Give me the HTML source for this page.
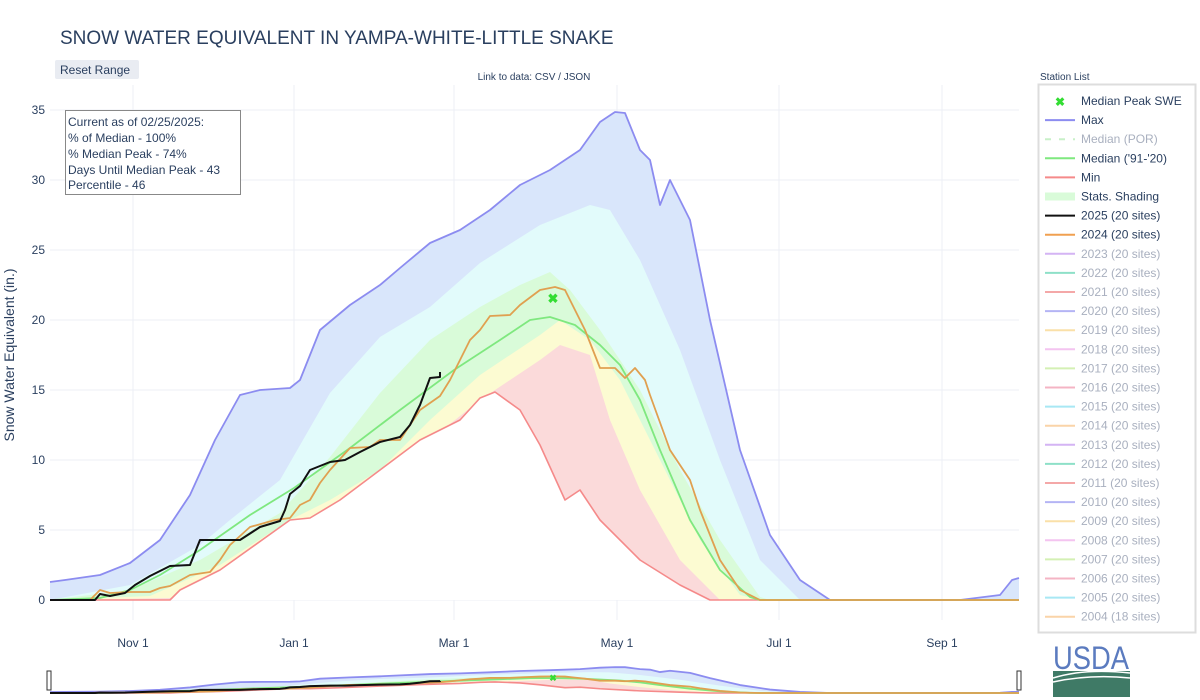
<!DOCTYPE html>
<html><head><meta charset="utf-8"><style>
body{margin:0;background:#fff;font-family:"Liberation Sans",sans-serif;}
svg{display:block}
</style></head><body>
<svg id="s" width="1200" height="700" xmlns="http://www.w3.org/2000/svg" font-family="Liberation Sans, sans-serif">
<rect width="1200" height="700" fill="#fff"/>
<g id="grid" stroke="#eceff5" stroke-width="1"></g>
<g id="main"></g>
<g id="mini" transform="translate(0,693) scale(1,0.053) translate(0,-600)"></g>
<text x="60" y="44" font-size="19" fill="#2a3f5f">SNOW WATER EQUIVALENT IN YAMPA-WHITE-LITTLE SNAKE</text>
<rect x="55" y="60" width="84" height="19" rx="2" fill="#e9ecf2"/>
<text x="60" y="74" font-size="12" fill="#2a3f5f">Reset Range</text>
<text x="534" y="80" font-size="10" fill="#2a3f5f" text-anchor="middle">Link to data: CSV / JSON</text>
<text x="1040" y="80" font-size="10" fill="#2a3f5f">Station List</text>
<text transform="translate(14,355) rotate(-90)" font-size="14" fill="#2a3f5f" text-anchor="middle">Snow Water Equivalent (in.)</text>
<g id="yt" font-size="12" fill="#2a3f5f" text-anchor="end"></g>
<g font-size="12" fill="#2a3f5f" text-anchor="middle">
<text x="133" y="647">Nov 1</text><text x="294" y="647">Jan 1</text><text x="454" y="647">Mar 1</text>
<text x="617" y="647">May 1</text><text x="779" y="647">Jul 1</text><text x="942" y="647">Sep 1</text></g>
<rect x="65.5" y="110.5" width="175" height="84" fill="#fff" stroke="#888" stroke-width="1"/>
<g font-size="12" fill="#2a3f5f">
<text x="68" y="126">Current as of 02/25/2025:</text>
<text x="68" y="142">% of Median - 100%</text>
<text x="68" y="158">% Median Peak - 74%</text>
<text x="68" y="174">Days Until Median Peak - 43</text>
<text x="68" y="189">Percentile - 46</text></g>
<rect x="1038.5" y="84.5" width="157" height="548" fill="#fff" stroke="#ddd" stroke-width="2"/>
<g id="leg" font-size="12"></g>
<rect x="47" y="671" width="4" height="19" fill="#fff" stroke="#333"/>
<rect x="1017" y="671" width="4" height="19" fill="#fff" stroke="#333"/>
<text x="1053" y="669" font-size="32" fill="#5b7bbf" font-family="Liberation Sans Narrow, Liberation Sans, sans-serif" textLength="76" lengthAdjust="spacingAndGlyphs">USDA</text>
<rect x="1053" y="671" width="77" height="26" fill="#3f7a66"/>
<path d="M1053 678 Q1085 668 1130 673" fill="none" stroke="#fff" stroke-width="1.5"/>
<path d="M1053 682 Q1090 674 1130 678" fill="none" stroke="#fff" stroke-width="1.5"/>
</svg>
<script>
const NS="http://www.w3.org/2000/svg";
function el(p,t,a){const e=document.createElementNS(NS,t);for(const k in a)e.setAttribute(k,a[k]);p.appendChild(e);return e;}
const g=document.getElementById('grid'),yt=document.getElementById('yt');
for(let v=0;v<=35;v+=5){const y=600-v*14;el(g,'line',{x1:50,x2:1019,y1:y,y2:y});const t=el(yt,'text',{x:45,y:y+4});t.textContent=v;}
[133,294,454,617,779,942].forEach(x=>el(g,'line',{x1:x,x2:x,y1:85,y2:620}));
const mx=[[50,582],[65,580],[100,575],[130,563],[160,540],[190,495],[215,440],[240,395],[260,390],[290,388],[300,380],[320,330],[350,305],[380,285],[400,268],[430,243],[460,230],[490,210],[520,185],[550,170],[580,150],[600,122],[615,112],[625,113],[640,150],[650,160],[660,205],[670,180],[690,220],[710,320],[740,450],[770,535],[800,580],[830,600],[960,600],[1000,595],[1012,580],[1019,578]];
const p90=[[50,600],[130,585],[200,545],[230,520],[280,480],[330,393],[380,337],[430,307],[480,263],[540,225],[590,205],[610,210],[640,260],[680,350],[720,460],[760,560],[800,600]];
const p70=[[50,600],[130,590],[200,560],[280,513],[330,457],[380,393],[430,340],[480,307],[520,285],[550,272],[570,290],[600,330],[640,390],[680,470],[720,540],[760,597],[770,600]];
const p30=[[50,600],[150,596],[220,565],[290,520],[330,500],[380,470],[430,420],[480,375],[540,335],[560,320],[590,340],[620,380],[660,460],[700,540],[740,595],[760,600]];
const p10=[[50,600],[170,598],[220,580],[290,535],[330,515],[380,490],[430,440],[480,400],[540,360],[560,345],[590,355],[610,420],[640,490],[680,560],[720,600]];
const mn=[[50,600],[170,600],[180,590],[220,570],[290,520],[310,518],[340,500],[380,470],[420,440],[460,420],[480,398],[495,392],[520,410],[540,445],[565,500],[580,490],[600,520],[640,560],[680,585],[710,600],[1019,600]];
const med=[[50,600],[100,598],[130,590],[160,575],[200,550],[250,515],[294,488],[350,448],[400,410],[454,370],[500,340],[530,320],[550,317],[575,325],[600,345],[620,365],[640,400],[660,450],[690,520],[720,570],[750,597],[760,600],[1019,600]];
const o24=[[50,600],[90,600],[100,590],[110,593],[130,592],[150,592],[160,588],[170,586],[190,575],[210,572],[220,560],[230,545],[250,527],[275,520],[290,518],[300,505],[310,500],[320,483],[330,470],[350,448],[370,447],[380,440],[400,440],[410,425],[420,410],[440,396],[450,380],[460,360],[470,340],[480,330],[490,316],[510,315],[520,305],[540,290],[555,287],[565,290],[575,310],[585,330],[600,368],[615,368],[625,378],[635,368],[645,380],[650,395],[670,450],[690,480],[700,510],[720,560],[740,590],[760,600],[1019,600]];
const b25=[[50,600],[95,600],[100,594],[110,596],[125,593],[135,585],[150,576],[170,566],[190,565],[200,540],[215,540],[240,540],[260,527],[280,521],[285,510],[290,494],[300,486],[310,470],[330,462],[345,460],[360,452],[380,442],[400,437],[410,425],[420,405],[430,378],[440,377],[440,372]];
const ps=a=>a.map(p=>p.join(',')).join(' ');
const area=a=>ps(a)+' '+a[a.length-1][0]+',600 50,600';
function draw(p){
 el(p,'polygon',{points:area(mx),fill:'#d9e6fb'});
 el(p,'polygon',{points:area(p90),fill:'#e2fbfb'});
 el(p,'polygon',{points:area(p70),fill:'#d9fbd9'});
 el(p,'polygon',{points:area(p30),fill:'#fcfbd2'});
 el(p,'polygon',{points:area(p10),fill:'#fbdada'});
 el(p,'polygon',{points:area(mn),fill:'#fff'});
 const L=(a,c,w)=>el(p,'polyline',{points:ps(a),fill:'none',stroke:c,'stroke-width':w,'vector-effect':'non-scaling-stroke','stroke-linejoin':'round'});
 L(mn,'#f58a8a',1.6);L(mx,'#8c8cf0',1.8);L(med,'#7fe87f',1.8);L(o24,'#e0a050',1.8);L(b25,'#111',2);
}
draw(document.getElementById('main'));draw(document.getElementById('mini'));
const m=document.getElementById('main');
const t=el(m,'text',{x:553,y:303,'font-size':13,'font-weight':'bold',fill:'#33dd33','text-anchor':'middle'});t.textContent='✖';
const mi=el(document.getElementById('s'),'text',{x:553,y:681,'font-size':9,'font-weight':'bold',fill:'#33dd33','text-anchor':'middle'});mi.textContent='✖';
const leg=document.getElementById('leg');
const items=[["Median Peak SWE","x","#33dd33",1],["Max","l","#8c8cf0",1],["Median (POR)","d","#c8f0c8",0],["Median ('91-'20)","l","#7fe87f",1],["Min","l","#f58a8a",1],["Stats. Shading","s","#d9fbd9",1],["2025 (20 sites)","l","#111",1],["2024 (20 sites)","l","#f0a050",1],
["2023 (20 sites)","l","#d4b4f4",0],["2022 (20 sites)","l","#8ee0c8",0],["2021 (20 sites)","l","#f4a8a8",0],["2020 (20 sites)","l","#b4b4f4",0],["2019 (20 sites)","l","#fae0a8",0],["2018 (20 sites)","l","#f4c4f0",0],["2017 (20 sites)","l","#d4f0b4",0],["2016 (20 sites)","l","#f4b4c4",0],["2015 (20 sites)","l","#a8e8f4",0],["2014 (20 sites)","l","#fad4a8",0],["2013 (20 sites)","l","#d4b4f4",0],["2012 (20 sites)","l","#8ee0c8",0],["2011 (20 sites)","l","#f4a8a8",0],["2010 (20 sites)","l","#b4b4f4",0],["2009 (20 sites)","l","#fae0a8",0],["2008 (20 sites)","l","#f4c4f0",0],["2007 (20 sites)","l","#d4f0b4",0],["2006 (20 sites)","l","#f4b4c4",0],["2005 (20 sites)","l","#a8e8f4",0],["2004 (18 sites)","l","#fad4a8",0]];
items.forEach((it,i)=>{const y=101+i*19.1;
 if(it[1]=='x'){const q=el(leg,'text',{x:1060,y:y+5,'font-size':12,'font-weight':'bold',fill:it[2],'text-anchor':'middle'});q.textContent='✖';}
 else if(it[1]=='s')el(leg,'rect',{x:1045,y:y-4,width:30,height:8,fill:it[2]});
 else el(leg,'line',{x1:1045,x2:1075,y1:y,y2:y,stroke:it[2],'stroke-width':2,'stroke-dasharray':it[1]=='d'?'6,8':'none'});
 const tx=el(leg,'text',{x:1081,y:y+4,fill:it[3]?'#2a3f5f':'#a9b0bf'});tx.textContent=it[0];});
</script>
</body></html>
